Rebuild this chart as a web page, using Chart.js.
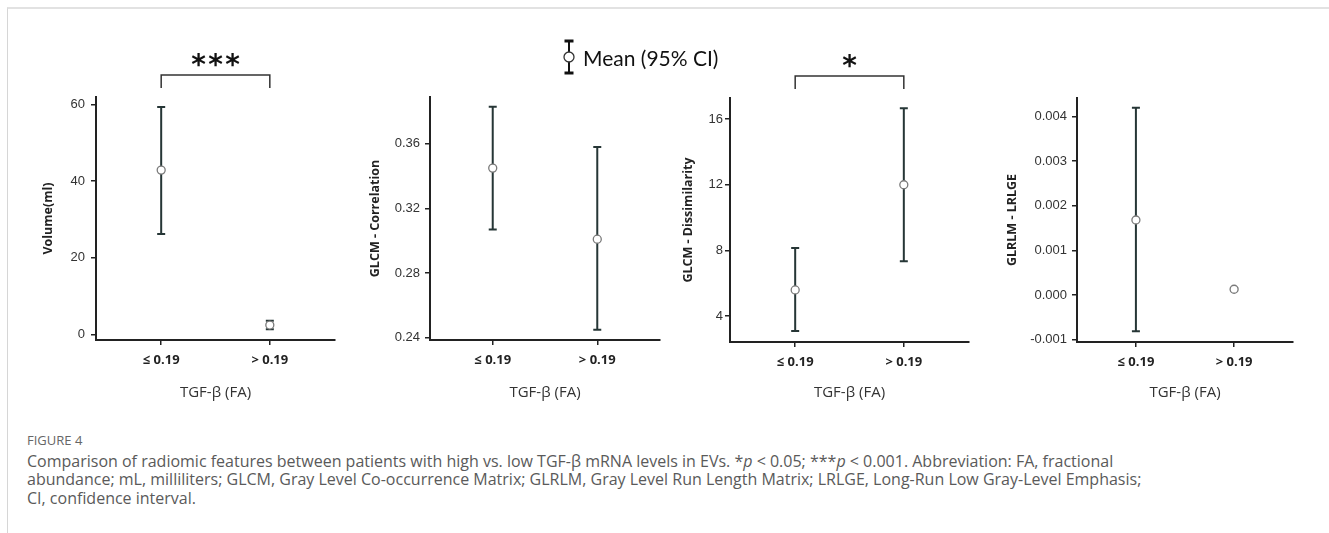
<!DOCTYPE html>
<html>
<head>
<meta charset="utf-8">
<script src="https://cdn.jsdelivr.net/npm/chart.js@4.4.0/dist/chart.umd.min.js"></script>
<style>
    body { margin: 0; background: #fff; width: 1329px; height: 533px; overflow: hidden; position: relative; font-family: "Open Sans", sans-serif; }
    #marco { position: absolute; left: 7px; top: 7px; right: 0; bottom: 0; border-top: 2px solid #e2e2e2; border-left: 1px solid #d6d6d6; }
    canvas { position: absolute; top: 0; }
    #leyenda { position: absolute; left: 563px; top: 39px; height: 36px; display: flex; align-items: center; font-family: Lato, sans-serif; font-size: 21px; color: #111; }
    #leyenda svg { margin-right: 8px; }
    #pie { position: absolute; left: 27px; top: 431px; width: 1295px; color: #5a5a5a; font-size: 16px; line-height: 18.5px; }
    #pie .fig { font-size: 13px; color: #666; margin-bottom: 2px; }
</style>
</head>
<body>
<div id="marco"></div>
<canvas id="panelVolumen" width="309" height="410" style="left:41px"></canvas>
<canvas id="panelCorrelacion" width="307" height="410" style="left:368px"></canvas>
<canvas id="panelDisimilitud" width="304" height="410" style="left:681px"></canvas>
<canvas id="panelLrlge" width="305" height="410" style="left:1005px"></canvas>
<div id="leyenda">
    <svg width="12" height="36" viewBox="0 0 12 36">
        <line x1="6" y1="2" x2="6" y2="34" stroke="#111" stroke-width="2"/>
        <line x1="1.5" y1="2" x2="10.5" y2="2" stroke="#111" stroke-width="3"/>
        <line x1="1.5" y1="34" x2="10.5" y2="34" stroke="#111" stroke-width="3"/>
        <circle cx="6" cy="18" r="5" fill="#fff" stroke="#333" stroke-width="1.3"/>
    </svg>
    <span>Mean (95% CI)</span>
</div>
<div id="pie">
    <div class="fig">FIGURE 4</div>
    Comparison of radiomic features between patients with high vs. low TGF-β mRNA levels in EVs. *<i>p</i> &lt; 0.05; ***<i>p</i> &lt; 0.001. Abbreviation: FA, fractional<br>
    abundance; mL, milliliters; GLCM, Gray Level Co-occurrence Matrix; GLRLM, Gray Level Run Length Matrix; LRLGE, Long-Run Low Gray-Level Emphasis;<br>
    CI, confidence interval.
</div>
<script>
// Categorías del eje X
const categorias = ['≤ 0.19', '> 0.19'];

// Volumen (ml): media e IC 95%
const volumenMedia = [42.9, 2.4];
const volumenBajo = [26.2, 1.3];
const volumenAlto = [59.4, 3.5];
const volumenTicks = [0, 20, 40, 60];

// GLCM - Correlation
const correlacionMedia = [0.345, 0.301];
const correlacionBajo = [0.307, 0.245];
const correlacionAlto = [0.383, 0.358];
const correlacionTicks = [0.24, 0.28, 0.32, 0.36];

// GLCM - Dissimilarity
const disimilitudMedia = [5.6, 12.0];
const disimilitudBajo = [3.1, 7.35];
const disimilitudAlto = [8.15, 16.65];
const disimilitudTicks = [4, 8, 12, 16];

// GLRLM - LRLGE
const lrlgeMedia = [0.00168, 0.00013];
const lrlgeBajo = [-0.00081, 0.00010];
const lrlgeAlto = [0.00419, 0.00016];
const lrlgeTicks = [-0.001, 0, 0.001, 0.002, 0.003, 0.004];

const COLORES = {
    barra: '#263636',
    eje: '#222',
    punto: '#7a7a7a'
};

// Dibuja las barras de error (IC 95%) detrás de los puntos
const barrasError = {
    id: 'barrasError',
    beforeDatasetsDraw(chart, args, opts) {
        const { ctx, scales: { x, y } } = chart;
        ctx.save();
        ctx.strokeStyle = COLORES.barra;
        ctx.lineWidth = 2;
        opts.bajo.forEach((b, i) => {
            const px = x.getPixelForValue(i);
            const y1 = y.getPixelForValue(b);
            const y2 = y.getPixelForValue(opts.alto[i]);
            ctx.beginPath();
            ctx.moveTo(px, y1); ctx.lineTo(px, y2);
            ctx.moveTo(px - 4, y1); ctx.lineTo(px + 4, y1);
            ctx.moveTo(px - 4, y2); ctx.lineTo(px + 4, y2);
            ctx.stroke();
        });
        ctx.restore();
    }
};

// Corchete de significancia con asteriscos
const significancia = {
    id: 'significancia',
    afterDraw(chart, args, opts) {
        if (!opts.estrellas) return;
        const { ctx, chartArea, scales: { x } } = chart;
        const x1 = x.getPixelForValue(0);
        const x2 = x.getPixelForValue(1);
        const yb = chartArea.top - 22;
        ctx.save();
        ctx.strokeStyle = '#333';
        ctx.lineWidth = 1.5;
        ctx.beginPath();
        ctx.moveTo(x1, yb + 13); ctx.lineTo(x1, yb); ctx.lineTo(x2, yb); ctx.lineTo(x2, yb + 13);
        ctx.stroke();
        ctx.fillStyle = '#111';
        ctx.font = 'bold 28px "DejaVu Sans"';
        ctx.textAlign = 'center';
        ctx.textBaseline = 'alphabetic';
        const medio = (x1 + x2) / 2;
        for (let k = 0; k < opts.estrellas; k++) {
            ctx.fillText('*', medio + (k - (opts.estrellas - 1) / 2) * 17, yb - 1);
        }
        ctx.restore();
    }
};

function crearPanel(id, cfg) {
    const ctx = document.getElementById(id).getContext('2d');
    return new Chart(ctx, {
        type: 'scatter',
        data: {
            datasets: [{
                data: cfg.media.map((m, i) => ({ x: i, y: m })),
                pointRadius: 4,
                pointHoverRadius: 4,
                pointBackgroundColor: '#fff',
                pointBorderColor: COLORES.punto,
                pointBorderWidth: 1.3
            }]
        },
        options: {
            responsive: false,
            animation: false,
            events: [],
            layout: { padding: { top: cfg.arriba, right: cfg.derecha, left: 0, bottom: 0 } },
            plugins: {
                legend: { display: false },
                tooltip: { enabled: false },
                barrasError: { bajo: cfg.bajo, alto: cfg.alto },
                significancia: { estrellas: cfg.estrellas || 0 }
            },
            scales: {
                x: {
                    type: 'linear',
                    min: -0.6,
                    max: 1.6,
                    afterBuildTicks: s => { s.ticks = categorias.map((c, i) => ({ value: i })); },
                    afterFit: s => { s.height = cfg.altoX; },
                    ticks: {
                        callback: v => categorias[v],
                        font: { family: '"Open Sans"', size: 13, weight: 'bold' },
                        color: '#222',
                        padding: 7,
                        maxRotation: 0
                    },
                    grid: { drawOnChartArea: false, drawTicks: true, tickLength: 5, color: COLORES.eje, lineWidth: 1.5 },
                    border: { display: true, color: COLORES.eje, width: 2 },
                    title: {
                        display: true,
                        text: 'TGF-β (FA)',
                        font: { family: '"Open Sans"', size: 15 },
                        color: '#333',
                        padding: { top: 0, bottom: 8 }
                    }
                },
                y: {
                    min: cfg.min,
                    max: cfg.max,
                    afterBuildTicks: s => { s.ticks = cfg.ticks.map(v => ({ value: v })); },
                    afterFit: s => { s.width = cfg.anchoY; },
                    ticks: {
                        callback: v => v.toFixed(cfg.decimales),
                        font: { family: '"Liberation Sans", Arial', size: 13 },
                        color: '#333',
                        padding: cfg.pad
                    },
                    grid: { drawOnChartArea: false, drawTicks: true, tickLength: 5, color: COLORES.eje, lineWidth: 1.5 },
                    border: { display: true, color: COLORES.eje, width: 2 },
                    title: {
                        display: true,
                        text: cfg.titulo,
                        font: { family: '"Open Sans"', size: 12.5, weight: 'bold' },
                        color: '#222',
                        padding: 0
                    }
                }
            }
        },
        plugins: [barrasError, significancia]
    });
}

crearPanel('panelVolumen', {
    titulo: 'Volume(ml)', media: volumenMedia, bajo: volumenBajo, alto: volumenAlto,
    ticks: volumenTicks, decimales: 0, min: -1.5, max: 62, estrellas: 3,
    arriba: 97, derecha: 15, anchoY: 55, altoX: 70, pad: 6
});
crearPanel('panelCorrelacion', {
    titulo: 'GLCM - Correlation', media: correlacionMedia, bajo: correlacionBajo, alto: correlacionAlto,
    ticks: correlacionTicks, decimales: 2, min: 0.2386, max: 0.389,
    arriba: 97, derecha: 15, anchoY: 62, altoX: 70, pad: 5
});
crearPanel('panelDisimilitud', {
    titulo: 'GLCM - Dissimilarity', media: disimilitudMedia, bajo: disimilitudBajo, alto: disimilitudAlto,
    ticks: disimilitudTicks, decimales: 0, min: 2.43, max: 17.28, estrellas: 1,
    arriba: 98, derecha: 16, anchoY: 49, altoX: 68, pad: 2
});
crearPanel('panelLrlge', {
    titulo: 'GLRLM - LRLGE', media: lrlgeMedia, bajo: lrlgeBajo, alto: lrlgeAlto,
    ticks: lrlgeTicks, decimales: 3, min: -0.00105, max: 0.00441,
    arriba: 98, derecha: 17, anchoY: 72, altoX: 68, pad: 5
});
</script>
</body>
</html>
